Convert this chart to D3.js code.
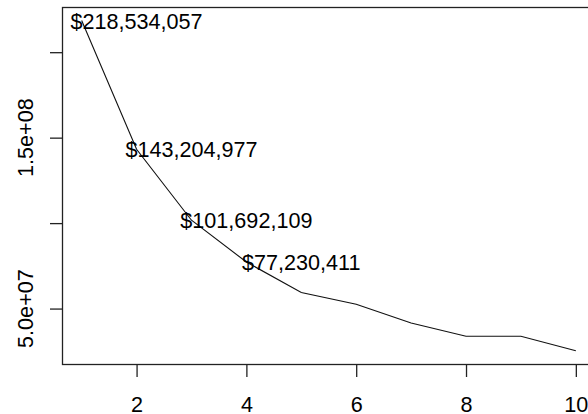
<!DOCTYPE html>
<html><head><meta charset="utf-8">
<script src="https://cdn.jsdelivr.net/npm/d3@7"></script>
<style>body{margin:0;background:#fff}svg{display:block}text{font-family:"Liberation Sans",Arial,sans-serif;fill:#000}</style>
</head><body>
<svg id="c" width="588" height="414"></svg>
<script>
const xValues = [1,2,3,4,5,6,7,8,9,10];
const revenue = [218534057,143204977,101692109,77230411,59400000,52500000,41600000,33800000,33800000,25300000];
const labelled = [0,1,2,3];
const xTicks = [2,4,6,8,10];
const yTicks = [5e7,1e8,1.5e8,2e8];
const yTickLabels = {50000000:"5.0e+07",150000000:"1.5e+08"};

(function(){
const svg = d3.select("#c");
const pLeft = 61.9, pRight = 595.6, pTop = 7.3, pBottom = 364;
const xmin = d3.min(xValues), xmax = d3.max(xValues), xr = xmax - xmin;
const x = d3.scaleLinear().domain([xmin - 0.04*xr, xmax + 0.04*xr]).range([pLeft, pRight]);
const ymin = d3.min(revenue), ymax = d3.max(revenue), yr = ymax - ymin;
const y = d3.scaleLinear().domain([ymin - 0.04*yr, ymax + 0.04*yr]).range([pBottom, pTop]);

// box
svg.append("rect").attr("x", Math.round(pLeft)+0.5).attr("y", Math.round(pTop)+0.5)
  .attr("width", pRight - pLeft).attr("height", Math.round(pBottom) - Math.round(pTop))
  .attr("fill","none").attr("stroke","#222").attr("stroke-width",1.3);

// x axis
const xa = svg.append("g").attr("transform",`translate(0,${Math.round(pBottom)+0.5})`)
  .call(d3.axisBottom(x).tickValues(xTicks).tickSize(12.5).tickPadding(20).tickFormat(d3.format("d")));
xa.select(".domain").remove();
xa.selectAll("line").attr("stroke","#222").attr("stroke-width",1.3);
xa.selectAll("text").style("font-size","21.6px").attr("fill","#000");

// y axis
const ya = svg.append("g").attr("transform",`translate(${Math.round(pLeft)+0.5},0)`)
  .call(d3.axisLeft(y).tickValues(yTicks).tickSize(12.5).tickFormat(""));
ya.select(".domain").remove();
ya.selectAll("line").attr("stroke","#222").attr("stroke-width",1.3);
svg.append("g").selectAll("text").data(yTicks.filter(d => yTickLabels[d])).join("text")
  .attr("transform", d => `translate(33,${y(d)}) rotate(-90)`)
  .attr("text-anchor","middle").style("font-size","21.6px")
  .text(d => yTickLabels[d]);

// line
const line = d3.line().x((d,i) => x(xValues[i])).y(d => y(d));
svg.append("path").datum(revenue).attr("d", line)
  .attr("fill","none").attr("stroke","#111").attr("stroke-width",1.1);

// labels
const fmt = d3.format("$,");
svg.append("g").selectAll("text").data(labelled).join("text")
  .attr("x", i => x(xValues[i] + 1))
  .attr("y", i => y(revenue[i]) + 8)
  .attr("text-anchor","middle").style("font-size","21.6px")
  .text(i => fmt(revenue[i]));
})();
</script>
</body></html>
